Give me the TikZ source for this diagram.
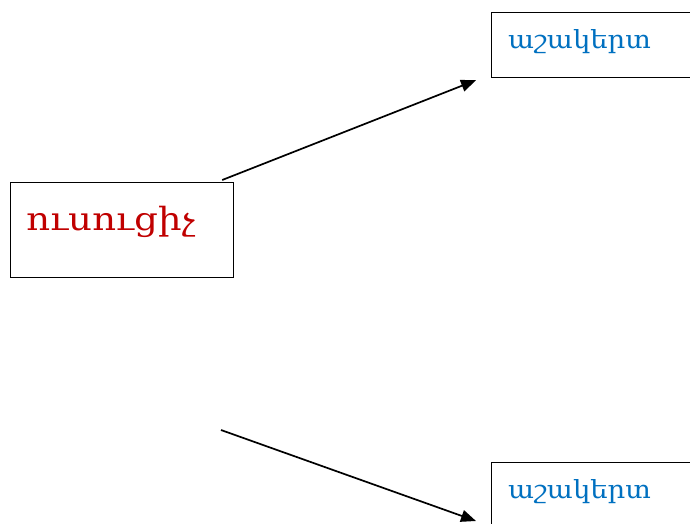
\documentclass[tikz,border=0pt]{standalone}
\usepackage{fontspec}
\setmainfont{DejaVu Serif}
\newfontfamily\teachfont[FakeStretch=1.16]{DejaVu Serif}
\newfontfamily\pupilfont[FakeStretch=1.10]{DejaVu Serif}
\usetikzlibrary{arrows.meta,positioning}
\definecolor{teachred}{HTML}{C00000}
\definecolor{pupilblue}{HTML}{0070C0}
\tikzset{
  rolebox/.style={draw, line width=1.2pt, anchor=north west, inner sep=0pt},
  roletext/.style={anchor=base west, inner sep=0pt},
  link/.style={line width=1.7pt, -{Triangle[length=15pt,width=12pt]}}
}
\begin{document}
\begin{tikzpicture}[x=1pt,y=-1pt]
\useasboundingbox (0,0) rectangle (690,523);
\clip (0,0) rectangle (690,523);
% boxes
\node[rolebox, minimum width=223pt, minimum height=95pt] (teacher) at (10,182) {};
\node[rolebox, minimum width=230pt, minimum height=65pt] (pupilA) at (491,12) {};
\node[rolebox, minimum width=230pt, minimum height=65pt] (pupilB) at (491,462) {};
% labels
\node[roletext, teachred, font=\teachfont\fontsize{32}{38}\selectfont] (teachertxt) at ([xshift=16pt,yshift=-48pt]teacher.north west) {ուսուցիչ};
\node[roletext, pupilblue, font=\pupilfont\fontsize{25}{30}\selectfont] (pupilAtxt) at ([xshift=17pt,yshift=-36pt]pupilA.north west) {աշակերտ};
\node[roletext, pupilblue, font=\pupilfont\fontsize{25}{30}\selectfont] (pupilBtxt) at ([xshift=17pt,yshift=-36pt]pupilB.north west) {աշակերտ};
% arrows
\coordinate (lowstart) at (221,430);
\draw[link] ([xshift=-12pt,yshift=2pt]teacher.north east) -- ([xshift=-15pt,yshift=-2pt]pupilA.south west);
\draw[link] (lowstart) -- ([xshift=-15pt,yshift=-59pt]pupilB.north west);
\end{tikzpicture}
\end{document}
